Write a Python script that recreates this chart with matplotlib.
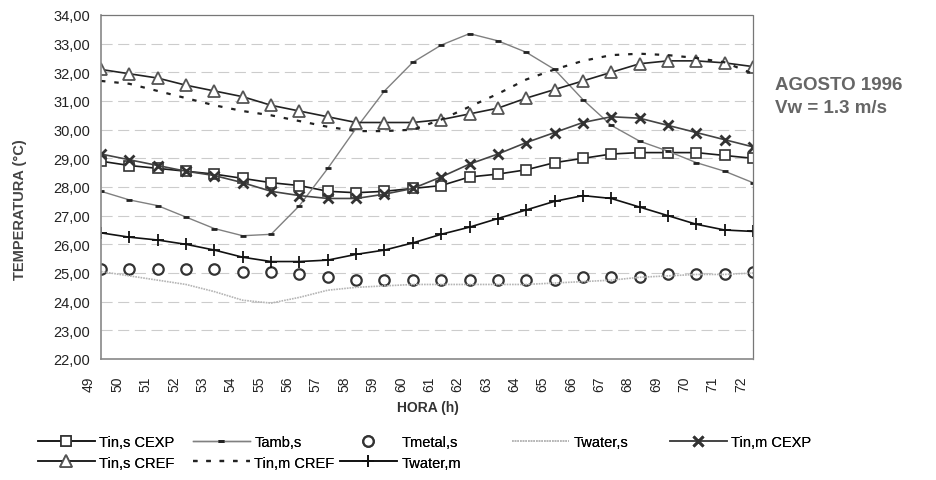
#!/bin/python3

import numpy as np
import matplotlib
matplotlib.use('Agg')
import matplotlib.pyplot as plt
import matplotlib.transforms as mtransforms

plt.rcParams['font.family'] = ['Liberation Sans', 'DejaVu Sans']

################################################################################
# data (hours 49..72, temperatures in degC)

hours = list(range(49, 73))

tin_s_cexp = [28.9, 28.75, 28.65, 28.55, 28.45, 28.3, 28.15, 28.05, 27.85, 27.8,
              27.85, 27.95, 28.05, 28.35, 28.45, 28.6, 28.85, 29.0, 29.15, 29.2,
              29.2, 29.2, 29.1, 29.0]
tamb_s = [27.85, 27.55, 27.35, 26.95, 26.55, 26.3, 26.35, 27.35, 28.65, 30.05,
          31.35, 32.35, 32.95, 33.35, 33.1, 32.7, 32.1, 31.05, 30.15, 29.6,
          29.25, 28.85, 28.55, 28.15]
tmetal_s = [25.15, 25.15, 25.15, 25.15, 25.15, 25.05, 25.05, 24.95, 24.85, 24.75,
            24.75, 24.75, 24.75, 24.75, 24.75, 24.75, 24.75, 24.85, 24.85, 24.85,
            24.95, 24.95, 24.95, 25.05]
twater_s = [25.05, 24.9, 24.75, 24.6, 24.35, 24.05, 23.95, 24.15, 24.4, 24.5,
            24.55, 24.6, 24.6, 24.6, 24.6, 24.6, 24.65, 24.7, 24.75, 24.85,
            24.9, 24.95, 24.95, 25.0]
tin_m_cexp = [29.15, 28.95, 28.75, 28.55, 28.4, 28.15, 27.85, 27.7, 27.6, 27.6,
              27.75, 27.95, 28.35, 28.8, 29.15, 29.55, 29.9, 30.25, 30.45, 30.4,
              30.15, 29.9, 29.65, 29.4]
tin_s_cref = [32.1, 31.95, 31.8, 31.55, 31.35, 31.15, 30.85, 30.65, 30.45, 30.25,
              30.25, 30.25, 30.35, 30.55, 30.75, 31.1, 31.4, 31.7, 32.0, 32.3,
              32.4, 32.4, 32.33, 32.2]
tin_m_cref = [31.7, 31.6, 31.35, 31.1, 30.85, 30.65, 30.5, 30.3, 30.1, 29.95,
              29.95, 30.0, 30.35, 30.8, 31.25, 31.75, 32.1, 32.4, 32.6, 32.65,
              32.6, 32.5, 32.35, 31.95]
twater_m = [26.4, 26.25, 26.15, 26.0, 25.8, 25.55, 25.4, 25.4, 25.45, 25.65,
            25.8, 26.05, 26.35, 26.6, 26.9, 27.2, 27.5, 27.7, 27.6, 27.3,
            27.0, 26.7, 26.5, 26.45]

yticks = np.arange(22, 35, 1)

################################################################################

fig = plt.figure(figsize=(9.37, 4.81), dpi=100)
ax = fig.add_axes([101/937, 1 - 360/481, 652/937, 344/481])

# grid lines
for y in yticks[1:-1]:
    ax.axhline(y, color='#cccccc', lw=0.8, ls=(0, (10, 5)), zorder=0)

h = {}
h['tin_s_cexp'], = ax.plot(hours, tin_s_cexp, color='#1a1a1a', lw=1.2,
                           marker='s', ms=7.5, mfc='white', mec='#333333',
                           mew=1.2, label='Tin,s CEXP')
h['tamb_s'], = ax.plot(hours, tamb_s, color='#808080', lw=1.0, marker='_',
                       ms=5, mec='#222222', mew=2.0, label='Tamb,s')
h['tmetal_s'], = ax.plot(hours, tmetal_s, ls='none', marker='o', ms=7.5,
                         mfc='white', mec='#333333', mew=1.6, label='Tmetal,s')
h['twater_s'], = ax.plot(hours, twater_s, color='#b5b5b5', lw=1.2,
                         ls=(0, (1, 0.6)), label='Twater,s')
h['tin_m_cexp'], = ax.plot(hours, tin_m_cexp, color='#444444', lw=1.2,
                           marker='x', ms=7, mec='#333333', mew=2.0,
                           label='Tin,m CEXP')
h['tin_s_cref'], = ax.plot(hours, tin_s_cref, color='#222222', lw=1.2,
                           marker='^', ms=8, mfc='white', mec='#555555',
                           mew=1.3, label='Tin,s CREF')
h['tin_m_cref'], = ax.plot(hours, tin_m_cref, color='#222222', lw=1.6,
                           ls=(0, (2, 4)), label='Tin,m CREF')
h['twater_m'], = ax.plot(hours, twater_m, color='#111111', lw=1.2,
                         marker='+', ms=9, mew=1.3, label='Twater,m')

ax.set_xlim(hours[0], hours[-1])
ax.set_ylim(22, 34)
ax.set_yticks(yticks)
ax.set_yticklabels([f'{v:.2f}'.replace('.', ',') for v in yticks],
                   fontsize=10.5, color='#222222')
ax.set_xticks(hours)
ax.set_xticklabels([str(v) for v in hours], rotation=90, fontsize=10,
                   color='#222222')
ax.tick_params(axis='both', length=0)
ax.tick_params(axis='x', pad=12)
ax.tick_params(axis='y', pad=8)

# labels sit a little to the left of the points, as in the original
offset = mtransforms.ScaledTranslation(-12/100, 0, fig.dpi_scale_trans)
for lbl in ax.get_xticklabels():
    lbl.set_transform(lbl.get_transform() + offset)

for side in ['left', 'bottom']:
    ax.spines[side].set_color('#888888')
    ax.spines[side].set_linewidth(1.2)
for side in ['top', 'right']:
    ax.spines[side].set_color('#777777')
    ax.spines[side].set_linewidth(0.9)
    ax.spines[side].set_linestyle((0, (1, 1)))

fig.text(428/937, 1 - 408/481, 'HORA (h)', ha='center', va='center',
         fontsize=10, fontweight='bold', color='#333333')
fig.text(20/937, 1 - 210/481, 'TEMPERATURA (°C)', rotation=90, ha='center',
         va='center', fontsize=10.5, fontweight='bold', color='#444444')

fig.text(775/937, 1 - 86/481, 'AGOSTO 1996', ha='left', va='center',
         fontsize=13.5, fontweight='bold', color='#666666')
fig.text(775/937, 1 - 109/481, 'Vw = 1.3 m/s', ha='left', va='center',
         fontsize=13.5, fontweight='bold', color='#666666')

########################################################################
# legend: one small legend per column, columns are unevenly spaced

columns = [(38, ['tin_s_cexp', 'tin_s_cref']),
           (193, ['tamb_s', 'tin_m_cref']),
           (340, ['tmetal_s', 'twater_m']),
           (512, ['twater_s']),
           (670, ['tin_m_cexp'])]
for x0, keys in columns:
    leg = fig.legend([h[k] for k in keys], [h[k].get_label() for k in keys],
                     loc='upper left', bbox_to_anchor=(x0/937, 1 - 436/481),
                     frameon=False, fontsize=10.5, handlelength=3.9,
                     handletextpad=0.3, labelspacing=0.45, borderpad=0,
                     borderaxespad=0)
    fig.add_artist(leg)

fig.savefig('out.png', dpi=100)
